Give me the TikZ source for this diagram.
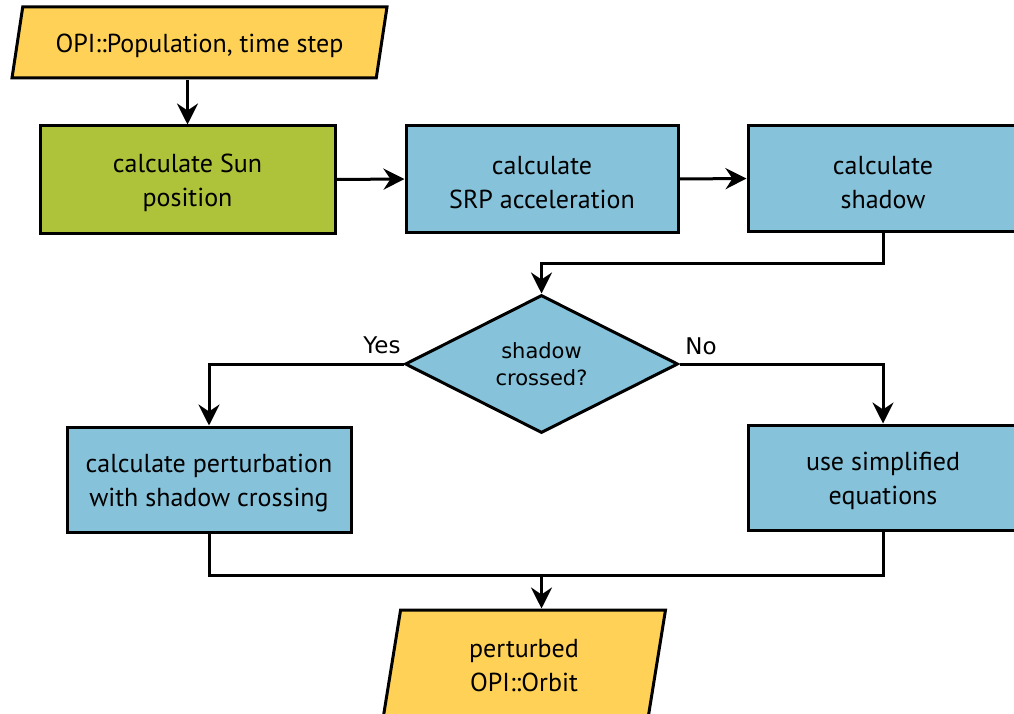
\documentclass[tikz,border=0pt]{standalone}
\usepackage{fontspec}
\setmainfont{PT Sans}
\newfontfamily\dejavu{DejaVu Sans}
\usetikzlibrary{arrows.meta,shapes.geometric}

\definecolor{ioyellow}{RGB}{255,210,87}
\definecolor{sungreen}{RGB}{174,194,58}
\definecolor{procblue}{RGB}{134,195,219}

% taller first line, so that box texts sit a little lower
\newcommand\firstline{\rule{0pt}{26pt}}

\begin{document}
\begin{tikzpicture}[x=1pt,y=-1pt,
  base/.style={draw=black,line width=3pt,align=center,inner sep=0pt,
    font=\fontsize{26}{34}\selectfont},
  proc/.style={base,rectangle,fill=procblue,minimum width=#1,minimum height=105},
  iobox/.style={base,trapezium,trapezium stretches body,fill=ioyellow,
    trapezium left angle=71,trapezium right angle=109},
  decide/.style={base,diamond,fill=procblue,minimum width=273,minimum height=138,
    font=\dejavu\fontsize{21}{27}\selectfont},
  arr/.style={line width=3pt,-{Stealth[length=21pt,width=21pt,inset=7pt]}},
  link/.style={line width=3pt},
  lbl/.style={font=\dejavu\fontsize{23}{26}\selectfont,inner sep=0pt}]

\useasboundingbox (0,0) rectangle (1014,714);
\clip (0,0) rectangle (1014,714);

% input / output data
\node[iobox,minimum width=375,minimum height=71] (in) at (199.5,42.5)
  {\firstline OPI::Population, time step};
\node[iobox,minimum width=283,minimum height=112] (out) at (524,666)
  {perturbed\\OPI::Orbit};

% processing steps
\node[proc=295,fill=sungreen,minimum height=107] (sun) at (187.5,179.5)
  {\firstline calculate Sun\\position};
\node[proc=272,minimum height=106] (srp) at (542,179)
  {\firstline calculate\\SRP acceleration};
\node[proc=270] (shadow) at (883,178.5) {\firstline calculate\\shadow};
\node[decide] (dia) at (541.5,364) {shadow\\crossed?};
\node[proc=284] (pert) at (209,479.5)
  {\firstline calculate perturbation\\with shadow crossing};
\node[proc=270] (simp) at (883,477.5) {\firstline use simplified\\equations};

% connectors
\draw[arr] (sun.north |- in.south) -- (sun.north);
\draw[arr] (sun.east) -- (srp.west);
\draw[arr] (srp.east) -- (shadow.west);
\draw[arr] (shadow.south) -- ++(0,31) -| (dia.north);
\draw[arr] (dia.west) -| (pert.north);
\draw[arr] (dia.east) -| (simp.north);
\coordinate (join) at (541.5,575);
\draw[link] (pert.south) |- (join) -| (simp.south);
\draw[arr] (join) -- (join |- out.north);

% branch labels
\node[lbl,anchor=base] (yes) at (382,353) {Yes};
\node[lbl,anchor=base] (no) at (701,354) {No};
\end{tikzpicture}
\end{document}
